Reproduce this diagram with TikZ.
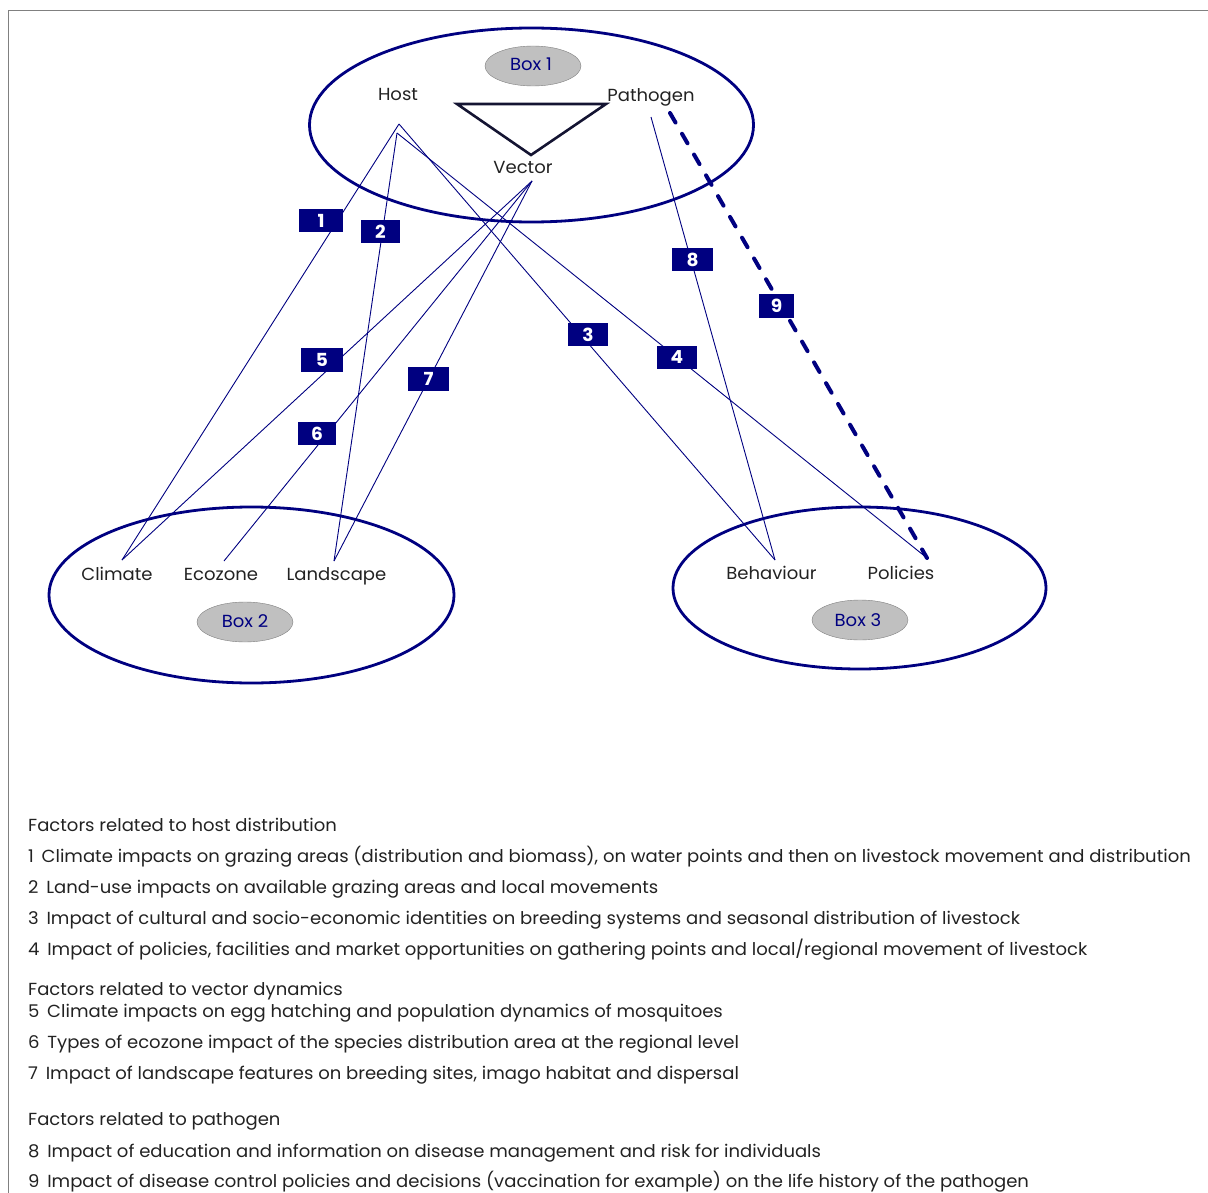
\documentclass[tikz,border=0pt]{standalone}
\usepackage{fontspec}
\setmainfont{Poppins}[FakeStretch=1.03]
\usetikzlibrary{shapes.geometric}
\definecolor{navy}{RGB}{0,0,128}
\definecolor{txt}{RGB}{34,34,34}
\definecolor{tri}{RGB}{20,20,50}
\definecolor{boxgrey}{RGB}{192,192,192}
\begin{document}
\begin{tikzpicture}[x=1pt,y=-1pt,
  lbl/.style={text=txt,font=\fontsize{17.5}{20}\selectfont,anchor=base,inner sep=0pt},
  boxname/.style={ellipse,draw=gray,fill=boxgrey,inner sep=0pt,minimum width=96pt,minimum height=40pt},
  boxtext/.style={text=navy,font=\fontsize{17.5}{20}\selectfont,anchor=base,inner sep=0pt},
  bigell/.style={draw=navy,line width=2.8pt},
  link/.style={draw=navy,line width=0.9pt},
  numbox/.style={fill=navy,text=white,font=\bfseries\fontsize{18}{20}\selectfont,inner sep=0pt,minimum height=23pt},
  legend/.style={text=txt,font=\fontsize{17.5}{20}\selectfont,anchor=base west,inner sep=0pt}
]
\useasboundingbox (0,0) rectangle (1208,1193);
% frame
\draw[gray,line width=1.6pt] (8.5,1193) -- (8.5,10.5) -- (1208,10.5);

% big ellipses
\draw[bigell] (531.5,125) ellipse [x radius=222, y radius=97];
\draw[bigell] (251.5,595) ellipse [x radius=202.5, y radius=88];
\draw[bigell] (859.5,588) ellipse [x radius=186.5, y radius=81];

% box names
\node[boxname] (b1) at (533,66) {};
\node[boxtext] (b1t) at (531,71) {Box 1};
\node[boxname] (b2) at (245,622) {};
\node[boxtext] (b2t) at (245,627) {Box 2};
\node[boxname] (b3) at (860,620) {};
\node[boxtext] (b3t) at (858,626) {Box 3};

% labels
\node[lbl] (host) at (398,101) {Host};
\node[lbl] (path) at (651,102) {Pathogen};
\node[lbl] (vect) at (523,174) {Vector};
\node[lbl] (clim) at (117,580) {Climate};
\node[lbl] (eco) at (221,580) {Ecozone};
\node[lbl] (land) at (336.5,580) {Landscape};
\node[lbl] (beh) at (771.5,579) {Behaviour};
\node[lbl] (pol) at (901,579) {Policies};

% triangle
\coordinate (t1) at (457,104);
\coordinate (t2) at (606,104);
\coordinate (t3) at (531,155);
\draw[tri,line width=2.6pt,line join=miter] (t1) -- (t2) -- (t3) -- cycle;

% anchor points
\coordinate (hA) at (399,124);
\coordinate (hB) at (397,133);
\coordinate (vA) at (532,181);
\coordinate (pA) at (651,117);
\coordinate (pD) at (670,113);
\coordinate (cA) at (122,560);
\coordinate (eA) at (224,561);
\coordinate (lA) at (334,561);
\coordinate (bA) at (775,560);
\coordinate (qA) at (927,558);

% links
\draw[link] (hA) -- (cA);
\draw[link] (hB) -- (lA);
\draw[link] (hA) -- (bA);
\draw[link] (hB) -- (qA);
\draw[link] (vA) -- (cA);
\draw[link] (vA) -- (eA);
\draw[link] (vA) -- (lA);
\draw[link] (pA) -- (bA);
\draw[navy,line width=4pt,line cap=round,dash pattern=on 11pt off 13pt] (pD) -- (qA);

% number boxes
\node[numbox,minimum width=44pt] (n1) at (321,220.5) {1};
\node[numbox,minimum width=39pt] (n2) at (380.5,231.5) {2};
\node[numbox,minimum width=40pt] (n3) at (588,334.5) {3};
\node[numbox,minimum width=40pt] (n4) at (677,357.5) {4};
\node[numbox,minimum width=42pt,minimum height=24pt] (n5) at (322,360) {5};
\node[numbox,minimum width=38pt] (n6) at (317,433.5) {6};
\node[numbox,minimum width=41pt,minimum height=24pt] (n7) at (428.5,379) {7};
\node[numbox,minimum width=41pt] (n8) at (692.5,259.5) {8};
\node[numbox,minimum width=35pt,minimum height=24pt] (n9) at (776.5,306) {9};

% legend
\node[legend] (h1) at (28,831) {Factors related to host distribution};
\node[legend] (l1) at (28,862) {1\, Climate impacts on grazing areas (distribution and biomass), on water points and then on livestock movement and distribution};
\node[legend] (l2) at (28,893) {2\, Land-use impacts on available grazing areas and local movements};
\node[legend] (l3) at (28,924) {3\, Impact of cultural and socio-economic identities on breeding systems and seasonal distribution of livestock};
\node[legend] (l4) at (28,955) {4\, Impact of policies, facilities and market opportunities on gathering points and local/regional movement of livestock};
\node[legend] (h2) at (28,995) {Factors related to vector dynamics};
\node[legend] (l5) at (28,1017) {5\, Climate impacts on egg hatching and population dynamics of mosquitoes};
\node[legend] (l6) at (28,1048) {6\, Types of ecozone impact of the species distribution area at the regional level};
\node[legend] (l7) at (28,1079) {7\, Impact of landscape features on breeding sites, imago habitat and dispersal};
\node[legend] (h3) at (28,1125) {Factors related to pathogen};
\node[legend] (l8) at (28,1157) {8\, Impact of education and information on disease management and risk for individuals};
\node[legend] (l9) at (28,1187) {9\, Impact of disease control policies and decisions (vaccination for example) on the life history of the pathogen};
\end{tikzpicture}
\end{document}
